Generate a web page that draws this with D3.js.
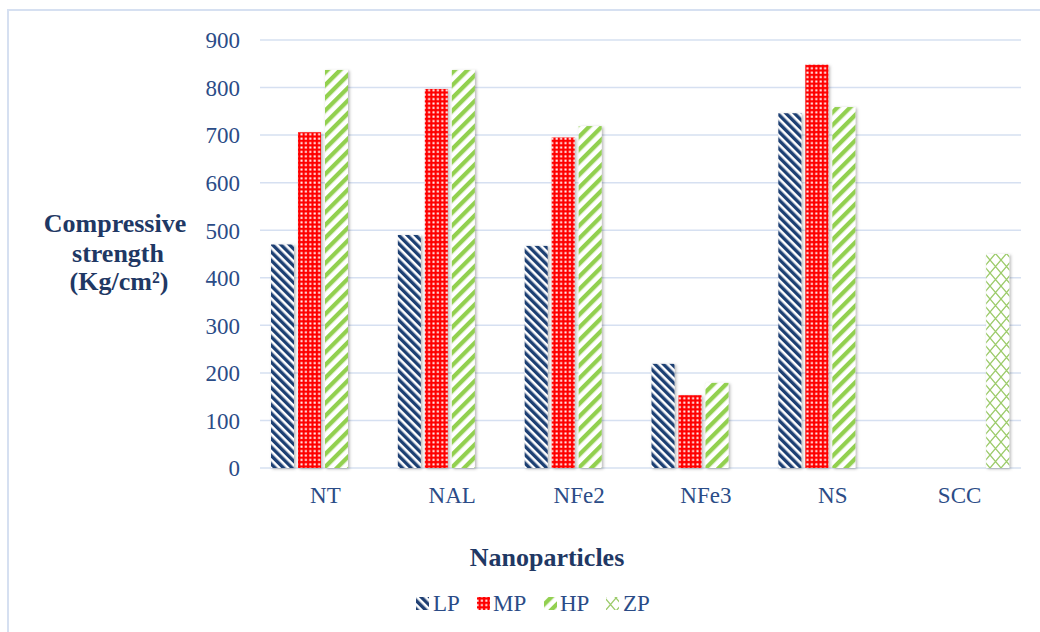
<!DOCTYPE html>
<html><head><meta charset="utf-8">
<script src="https://cdn.jsdelivr.net/npm/d3@7"></script>
<style>
html,body{margin:0;padding:0;background:#fff;}
svg{display:block;}
</style></head>
<body>
<svg id="chart" width="1040" height="632"></svg>
<script>
const categories = ["NT", "NAL", "NFe2", "NFe3", "NS", "SCC"];
const seriesNames = ["LP", "MP", "HP", "ZP"];
const LP = [470, 490, 467, 219, 746, null];
const MP = [706, 797, 695, 153, 848, null];
const HP = [837, 837, 719, 179, 759, null];
const ZP = [null, null, null, null, null, 450];
const yTicks = [0, 100, 200, 300, 400, 500, 600, 700, 800, 900];
const seriesValues = {LP, MP, HP, ZP};

const svg = d3.select("#chart");
const W = 1040, H = 632;
const serif = "'Liberation Serif','Times New Roman',serif";
const titleColor = "#1F3864";
const labelColor = "#2B4C87";
const gridColor = "#D6E0F1";

svg.append("rect").attr("width", W).attr("height", H).attr("fill", "#fff");
svg.append("rect").attr("x", 8).attr("y", 10).attr("width", W).attr("height", H)
  .attr("fill", "none").attr("stroke", gridColor).attr("stroke-width", 2);

const defs = svg.append("defs");
// LP: navy "\" stripes
const pLP = defs.append("pattern").attr("id", "pLP").attr("patternUnits", "userSpaceOnUse")
  .attr("width", 6).attr("height", 6).attr("patternTransform", "rotate(-45)");
pLP.append("rect").attr("width", 6).attr("height", 6).attr("fill", "#fff");
pLP.append("rect").attr("width", 3.4).attr("height", 6).attr("fill", "#1F3F73");
// MP: red with white dots
const pMP = defs.append("pattern").attr("id", "pMP").attr("patternUnits", "userSpaceOnUse")
  .attr("width", 4.4).attr("height", 4.4);
pMP.append("rect").attr("width", 4.4).attr("height", 4.4).attr("fill", "#FF0000");
pMP.append("rect").attr("x", 1.3).attr("y", 1.3).attr("width", 2).attr("height", 2).attr("fill", "#fff");
// HP: green "/" stripes
const pHP = defs.append("pattern").attr("id", "pHP").attr("patternUnits", "userSpaceOnUse")
  .attr("width", 9).attr("height", 9).attr("patternTransform", "rotate(45)");
pHP.append("rect").attr("width", 9).attr("height", 9).attr("fill", "#fff");
pHP.append("rect").attr("width", 4.3).attr("height", 9).attr("fill", "#92D050");
// ZP: diamond lattice
const pZP = defs.append("pattern").attr("id", "pZP").attr("patternUnits", "userSpaceOnUse")
  .attr("width", 11).attr("height", 13);
pZP.append("rect").attr("width", 11).attr("height", 13).attr("fill", "#fff");
pZP.append("path").attr("d", "M0,0L11,13M11,0L0,13").attr("stroke", "#9CCB6A")
  .attr("stroke-width", 1.3).attr("fill", "none");

const fills = {LP: "url(#pLP)", MP: "url(#pMP)", HP: "url(#pHP)", ZP: "url(#pZP)"};

const filt = defs.append("filter").attr("id", "shadow").attr("x", "-30%").attr("y", "-10%")
  .attr("width", "160%").attr("height", "120%");
filt.append("feDropShadow").attr("dx", 1.5).attr("dy", 1).attr("stdDeviation", 1.5)
  .attr("flood-color", "#000").attr("flood-opacity", 0.3);

const x = d3.scaleBand().domain(categories).range([260, 1021]).paddingInner(0).paddingOuter(0);
const xs = d3.scaleBand().domain(seriesNames).range([11, 115]).paddingInner(4 / 27).paddingOuter(0);
const y = d3.scaleLinear().domain([0, 900]).range([468, 40]);

// gridlines
svg.append("g").selectAll("line").data(yTicks).join("line")
  .attr("x1", 260).attr("x2", 1021)
  .attr("y1", d => y(d)).attr("y2", d => y(d))
  .attr("stroke", gridColor).attr("stroke-width", 1.5);

// y axis labels
const yAxis = d3.axisLeft(y).tickValues(yTicks).tickSize(0).tickPadding(0);
const yg = svg.append("g").attr("transform", "translate(240,0)").call(yAxis);
yg.select(".domain").remove();
yg.selectAll("text").attr("font-family", serif).attr("font-size", 23)
  .attr("fill", labelColor).attr("dy", "0.34em");

// bars
const barData = [];
categories.forEach((c, i) => {
  seriesNames.forEach(s => {
    const v = seriesValues[s][i];
    if (v != null) barData.push({c, s, v});
  });
});
svg.append("g").selectAll("rect").data(barData).join("rect")
  .attr("x", d => x(d.c) + xs(d.s))
  .attr("width", xs.bandwidth())
  .attr("y", d => y(d.v))
  .attr("height", d => y(0) - y(d.v))
  .attr("fill", d => fills[d.s])
  .attr("filter", "url(#shadow)");

// x axis labels
const xAxis = d3.axisBottom(x).tickSize(0).tickPadding(0);
const xg = svg.append("g").attr("transform", "translate(2,503)").call(xAxis);
xg.select(".domain").remove();
xg.selectAll("text").attr("font-family", serif).attr("font-size", 23)
  .attr("fill", labelColor).attr("dy", 0);

// axis titles
const yt = svg.append("text").attr("font-family", serif).attr("font-size", 26)
  .attr("font-weight", "bold").attr("fill", titleColor).attr("text-anchor", "middle");
yt.append("tspan").attr("x", 115).attr("y", 232).text("Compressive");
yt.append("tspan").attr("x", 118).attr("y", 262).text("strength");
yt.append("tspan").attr("x", 119).attr("y", 290).text("(Kg/cm²)");

svg.append("text").attr("x", 547).attr("y", 566).attr("text-anchor", "middle")
  .attr("font-family", serif).attr("font-size", 26).attr("font-weight", "bold")
  .attr("fill", titleColor).text("Nanoparticles");

// legend
const legendPos = [{s: "LP", mx: 416, tx: 433}, {s: "MP", mx: 477, tx: 493},
                   {s: "HP", mx: 544, tx: 560}, {s: "ZP", mx: 606, tx: 623}];
const lg = svg.append("g");
legendPos.forEach(p => {
  lg.append("rect").attr("x", p.mx).attr("y", 597).attr("width", 13).attr("height", 13)
    .attr("fill", fills[p.s]);
  lg.append("text").attr("x", p.tx).attr("y", 611).attr("font-family", serif)
    .attr("font-size", 23).attr("fill", labelColor).text(p.s);
});
</script>
</body></html>
